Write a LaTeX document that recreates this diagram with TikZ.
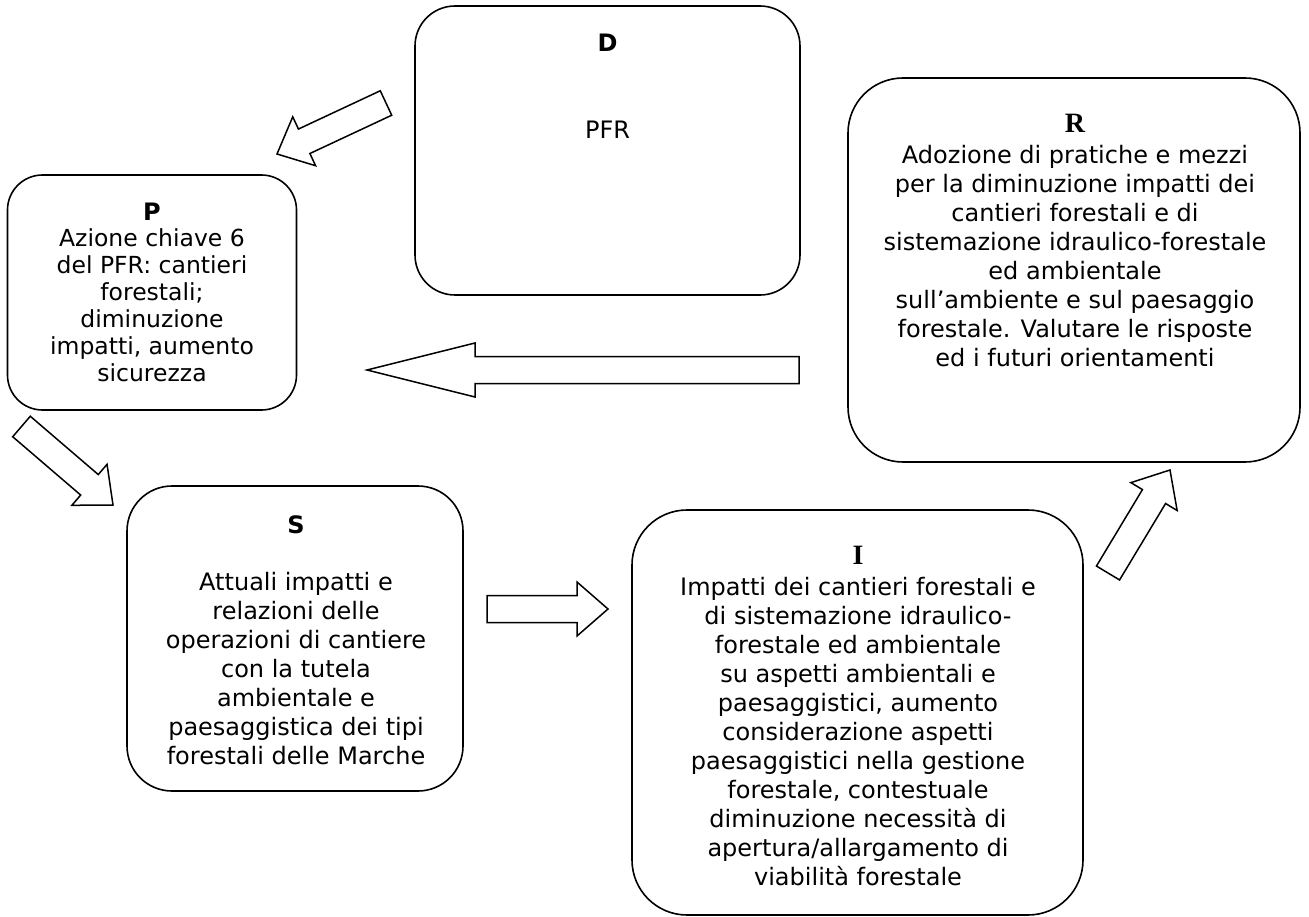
\documentclass[tikz,border=0pt]{standalone}
\usepackage{fontspec}
\setmainfont{DejaVu Sans}
\newfontfamily\titleserif{Liberation Serif}
\usetikzlibrary{calc}

% hollow block arrow: #1 tail coordinate, #2 tip coordinate, #3 head length
\newcommand\dpsirarrow[3]{%
  \coordinate (#1-base) at ($(#2)!#3!(#1)$);
  \draw[blockarrow]
    ($(#1)!13.5pt!90:(#2)$) -- ($(#1-base)!13.5pt!90:(#2)$) --
    ($(#1-base)!27pt!90:(#2)$) -- (#2) --
    ($(#1-base)!27pt!-90:(#2)$) -- ($(#1-base)!13.5pt!-90:(#2)$) --
    ($(#1)!13.5pt!-90:(#2)$) -- cycle;}

\tikzset{
  dpsirbox/.style={draw, line width=1.6pt, rounded corners=#1, inner sep=0pt},
  bodytext/.style={align=center, inner sep=0pt, anchor=north,
    font=\fontsize{24}{29}\selectfont},
  smallbody/.style={align=center, inner sep=0pt, anchor=north,
    font=\fontsize{23.5}{27}\selectfont},
  sanstitle/.style={inner sep=0pt, font=\fontsize{24}{29}\selectfont\bfseries},
  seriftitle/.style={inner sep=0pt, font=\fontsize{28}{30}\selectfont\titleserif\bfseries},
  blockarrow/.style={draw, line width=1.5pt, fill=white, line join=miter},
}

\begin{document}
\begin{tikzpicture}[x=1pt, y=-1pt]
\useasboundingbox (0,0) rectangle (1309,917);

% boxes
\node[dpsirbox=40pt, minimum width=385pt, minimum height=289pt] (D) at (607.5,150.5) {};
\node[dpsirbox=35pt, minimum width=289pt, minimum height=235pt] (P) at (152,292.5) {};
\node[dpsirbox=55pt, minimum width=452pt, minimum height=384pt] (R) at (1074,270) {};
\node[dpsirbox=45pt, minimum width=336pt, minimum height=305pt] (S) at (295,638.5) {};
\node[dpsirbox=55pt, minimum width=451pt, minimum height=405pt] (I) at (857.5,712.5) {};

% D
\node[sanstitle] (Dt) at (607.5,43) {D};
\node[font=\fontsize{24}{29}\selectfont, inner sep=0pt] (Db) at (607.5,130) {PFR};

% P
\node[sanstitle] (Pt) at (152,212) {P};
\node[smallbody] (Pb) at (152,226.5) {\rule{0pt}{19.5pt}Azione chiave 6\\del PFR: cantieri\\forestali;\\diminuzione\\impatti, aumento\\sicurezza};

% R
\node[seriftitle] (Rt) at (1075,123) {R};
\node[bodytext] (Rb) at (1075,143.5) {\rule{0pt}{20pt}Adozione di pratiche e mezzi\\per la diminuzione impatti dei\\cantieri forestali e di\\sistemazione idraulico-forestale\\ed ambientale\\sull’ambiente e sul paesaggio\\forestale. Valutare le risposte\\ed i futuri orientamenti};

% S
\node[sanstitle] (St) at (296,525) {S};
\node[bodytext] (Sb) at (296,570.5) {\rule{0pt}{20pt}Attuali impatti e\\relazioni delle\\operazioni di cantiere\\con la tutela\\ambientale e\\paesaggistica dei tipi\\forestali delle Marche};

% I
\node[seriftitle] (It) at (858,555) {I};
\node[bodytext] (Ib) at (858,575.5) {\rule{0pt}{20pt}Impatti dei cantieri forestali e\\di sistemazione idraulico-\\forestale ed ambientale\\su aspetti ambientali e\\paesaggistici, aumento\\considerazione aspetti\\paesaggistici nella gestione\\forestale, contestuale\\diminuzione necessità di\\apertura/allargamento di\\viabilità forestale};

% block arrows between the boxes
\coordinate (DP) at (386,103);   \coordinate (DPtip) at (277,154);
\coordinate (RP) at (799,370);   \coordinate (RPtip) at (367,370);
\coordinate (PS) at (21.5,426.5); \coordinate (PStip) at (113,505);
\coordinate (SI) at (487,609);   \coordinate (SItip) at (608,609);
\coordinate (IR) at (1108,573);  \coordinate (IRtip) at (1170,470);

\dpsirarrow{DP}{DPtip}{30pt}
\dpsirarrow{RP}{RPtip}{108pt}
\dpsirarrow{PS}{PStip}{31pt}
\dpsirarrow{SI}{SItip}{31pt}
\dpsirarrow{IR}{IRtip}{31pt}
\end{tikzpicture}
\end{document}
